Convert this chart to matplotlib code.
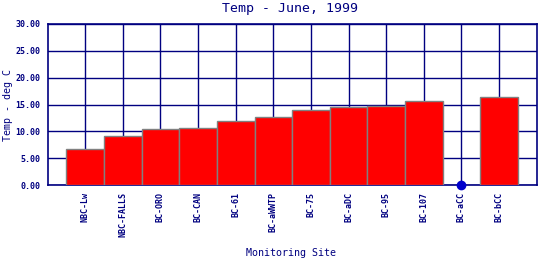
import numpy as np
import matplotlib
matplotlib.use("Agg")
import matplotlib.pyplot as plt

# Data
sites = ['NBC-Lw', 'NBC-FALLS', 'BC-ORO', 'BC-CAN', 'BC-61', 'BC-aWWTP',
         'BC-75', 'BC-aDC', 'BC-95', 'BC-107', 'BC-aCC', 'BC-bCC']
temps = [6.65, 9.1, 10.4, 10.6, 12.0, 12.6, 14.0, 14.45, 14.65, 15.6, 0.0, 16.35]
yticks = [0, 5, 10, 15, 20, 25, 30]

navy = '#000080'
plt.rcParams['font.family'] = ['DejaVu Sans Mono']

fig = plt.figure(figsize=(5.4, 2.6), dpi=100)
ax = fig.add_axes([0.088, 0.288, 0.906, 0.62])

x = np.arange(1, len(sites) + 1)
vals = np.array(temps)
has_bar = vals > 0
ax.bar(x[has_bar], vals[has_bar], width=1.0, color='#ff0000',
       edgecolor='#808080', linewidth=1.0, zorder=3)
# zero values shown as a dot
ax.plot(x[~has_bar], vals[~has_bar], 'o', color='#0000cc', markersize=6,
        zorder=5, clip_on=False)

ax.set_xlim(0, len(sites) + 1)
ax.set_ylim(0, 30)
ax.set_yticks(yticks)
ax.set_yticklabels(['%.2f' % v for v in yticks], fontsize=6,
                   color=navy, fontweight='bold')
ax.set_xticks(x)
ax.set_xticklabels(sites, rotation=90, fontsize=6, color=navy,
                   fontweight='bold')
ax.tick_params(length=0, pad=5)
ax.grid(True, color=navy, linewidth=1.0, zorder=0)
ax.set_axisbelow(True)
for s in ax.spines.values():
    s.set_color(navy)
    s.set_linewidth(1.2)

fig.text(0.537, 0.968, 'Temp - June, 1999', fontsize=9.5, color=navy,
         ha='center', va='center')
fig.text(0.015, 0.596, 'Temp - deg C', fontsize=7.2, color=navy,
         rotation=90, ha='center', va='center')
fig.text(0.538, 0.025, 'Monitoring Site', fontsize=7.2, color=navy,
         ha='center', va='center')

fig.savefig('out.png', dpi=100)
